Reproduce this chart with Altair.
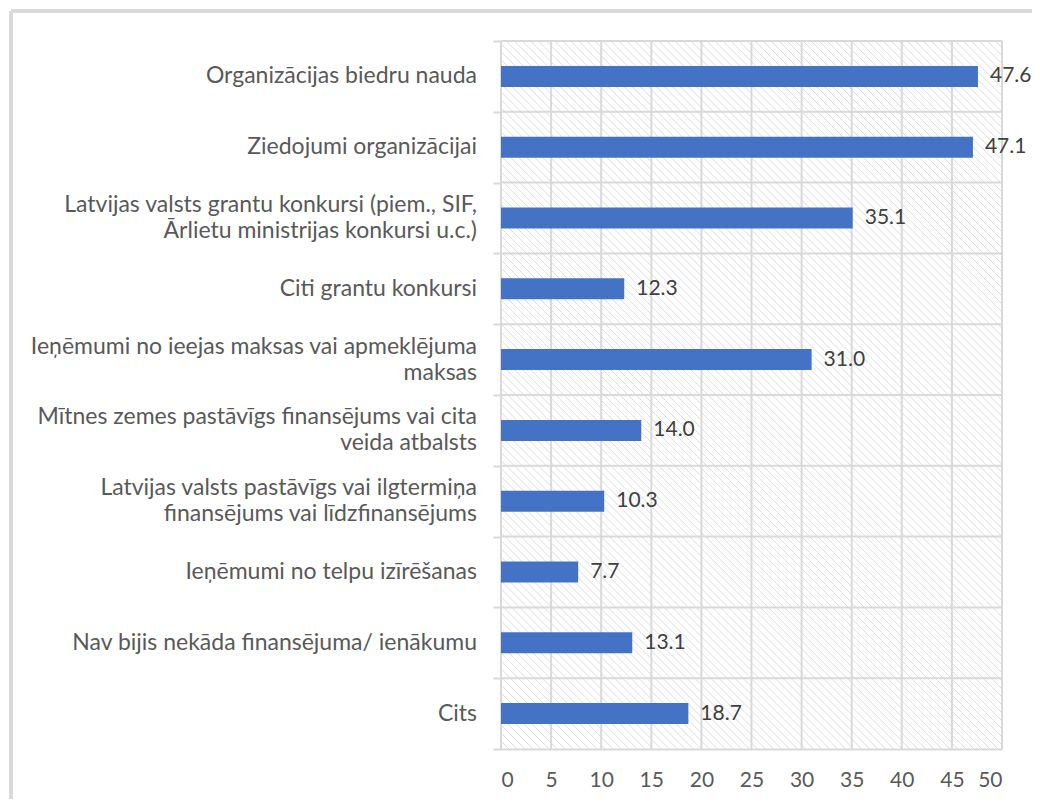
import altair as alt
import numpy as np
import pandas as pd

categories = [
    "Organizācijas biedru nauda",
    "Ziedojumi organizācijai",
    "Latvijas valsts grantu konkursi (piem., SIF,|Ārlietu ministrijas konkursi u.c.)",
    "Citi grantu konkursi",
    "Ieņēmumi no ieejas maksas vai apmeklējuma|maksas",
    "Mītnes zemes pastāvīgs finansējums vai cita|veida atbalsts",
    "Latvijas valsts pastāvīgs vai ilgtermiņa|finansējums vai līdzfinansējums",
    "Ieņēmumi no telpu izīrēšanas",
    "Nav bijis nekāda finansējuma/ ienākumu",
    "Cits",
]
values = [47.6, 47.1, 35.1, 12.3, 31.0, 14.0, 10.3, 7.7, 13.1, 18.7]
x_ticks = [0, 5, 10, 15, 20, 25, 30, 35, 40, 45, 50]

W, H = 501, 708
FONT = "Lato"
FS_CAT = 23
FS_NUM = 21
GRID = "#d9d9d9"
LBL = "#595959"

df = pd.DataFrame({"cat": categories, "v": values})

xscale = alt.Scale(domain=[0, 50], nice=False, zero=True)
yscale = alt.Scale(domain=categories, paddingInner=0, paddingOuter=0)

xaxis = alt.Axis(values=x_ticks, grid=False, ticks=False, domain=True,
                 domainColor=GRID, domainWidth=2, labelFont=FONT,
                 labelFontSize=FS_NUM, labelColor=LBL, labelPadding=20,
                 title=None)
yaxis = alt.Axis(title=None, tickBand="extent", ticks=True, tickSize=8,
                 tickColor=GRID, tickWidth=2, domain=False, grid=False,
                 labels=False)

# light downward-diagonal hatch pattern of the plot area (decoration)
span = 50 * H / W
hx = np.arange(-span, 50, 0.8)
hatch_df = pd.DataFrame({"hx": hx, "hx2": hx + span})
hatch = alt.Chart(hatch_df).mark_rule(color="#dcdcdc", strokeWidth=1, clip=True).encode(
    x=alt.X("hx:Q", scale=xscale, axis=xaxis),
    x2="hx2:Q",
    y=alt.value(0),
    y2=alt.value(H),
)

vgrid = alt.Chart(pd.DataFrame({"t": x_ticks})).mark_rule(color=GRID, strokeWidth=2).encode(
    x=alt.X("t:Q", scale=xscale, axis=xaxis)
)

base = alt.Chart(df)
ycat = alt.Y("cat:N", sort=None, scale=yscale, axis=yaxis)

hgrid = base.mark_rule(color=GRID, strokeWidth=2).encode(
    y=alt.Y("cat:N", sort=None, scale=yscale, axis=yaxis, bandPosition=0)
)

bars = base.mark_bar(color="#4472C4", size=21).encode(
    x=alt.X("v:Q", scale=xscale, axis=xaxis),
    y=ycat,
)

labels = base.mark_text(align="left", baseline="middle", dx=12,
                        font=FONT, fontSize=FS_NUM, color="#404040").encode(
    x=alt.X("v:Q", scale=xscale, axis=xaxis),
    y=ycat,
    text=alt.Text("v:Q", format=".1f"),
)

# category labels (one- and two-line), right-aligned left of the axis
cat_style = dict(align="right", baseline="middle", font=FONT, fontSize=FS_CAT,
                 color=LBL, clip=False)
single = base.transform_filter("indexof(datum.cat, '|') < 0").mark_text(**cat_style).encode(
    x=alt.value(-24), y=ycat, text="cat:N"
)
line1 = base.transform_filter("indexof(datum.cat, '|') >= 0").transform_calculate(
    t="split(datum.cat, '|')[0]"
).mark_text(dy=-13, **cat_style).encode(x=alt.value(-24), y=ycat, text="t:N")
line2 = base.transform_filter("indexof(datum.cat, '|') >= 0").transform_calculate(
    t="split(datum.cat, '|')[1]"
).mark_text(dy=13, **cat_style).encode(x=alt.value(-24), y=ycat, text="t:N")

border_top = base.mark_rule(color=GRID, strokeWidth=3, clip=False).encode(
    x=alt.value(-490), x2=alt.value(700), y=alt.value(-30)
)
border_left = base.mark_rule(color=GRID, strokeWidth=3, clip=False).encode(
    x=alt.value(-490), y=alt.value(-30), y2=alt.value(900)
)

chart = alt.layer(hatch, vgrid, hgrid, bars, labels, single, line1, line2,
                  border_top, border_left).properties(
    width=W, height=H,
    autosize=alt.AutoSizeParams(type="none"),
    padding={"left": 493, "top": 33, "right": 30, "bottom": 50},
    background="white",
).configure_view(stroke=None)

chart.save("out.html", embed_options={"renderer": "svg", "actions": False})
